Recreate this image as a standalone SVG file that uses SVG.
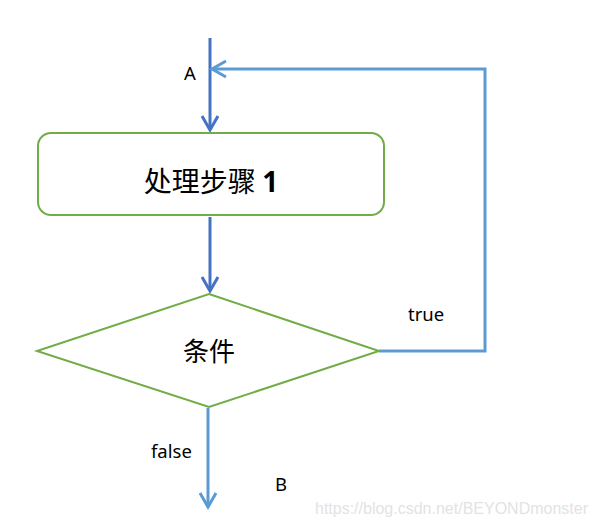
<svg xmlns="http://www.w3.org/2000/svg" width="598" height="527" viewBox="0 0 598 527">
<style>
.node{fill:#fff;stroke:#70AD47;stroke-width:2}
.c1{stroke:#4472C4;stroke-width:3;fill:none}
.c2{stroke:#5B9BD5;stroke-width:3;fill:none}
.lbl{font-family:"Noto Sans CJK SC","Noto Sans",sans-serif;fill:#000}
.small{font-family:"Noto Sans","Open Sans",sans-serif;font-size:18.5px;fill:#000}
</style>
<rect width="598" height="527" fill="#fff"/>
<g id="connectors">
<path class="c1" d="M210,38 V130"/>
<path class="c1" d="M202,116 L210,130 L218,116"/>
<path class="c1" d="M210,217 V291"/>
<path class="c1" d="M202,277 L210,291 L218,277"/>
<path class="c2" d="M379,351 H485 V69 H212"/>
<path class="c2" d="M226,61 L212,69 L226,77"/>
<path class="c2" d="M208,408 V507"/>
<path class="c2" d="M200,493 L208,507 L216,493"/>
<text class="small" x="184" y="80">A</text>
<text class="small" x="408" y="321">true</text>
<text class="small" x="151" y="458">false</text>
<text class="small" x="275" y="491">B</text>
</g>
<g id="step1">
<rect class="node" x="38" y="133" width="346" height="82" rx="13"/>
<text class="lbl" font-size="28" x="211" y="192" text-anchor="middle">处理步骤 <tspan font-family="'Noto Sans',sans-serif" font-weight="bold">1</tspan></text>
</g>
<g id="cond">
<polygon class="node" points="209,294 379,351 209,407 37,351"/>
<text class="lbl" font-size="26" x="209" y="361" text-anchor="middle">条件</text>
</g>
<text x="588" y="514" text-anchor="end" font-family="'Liberation Sans',Arial,sans-serif" font-size="16" fill="#e3e3e3">https://blog.csdn.net/BEYONDmonster</text>
</svg>
